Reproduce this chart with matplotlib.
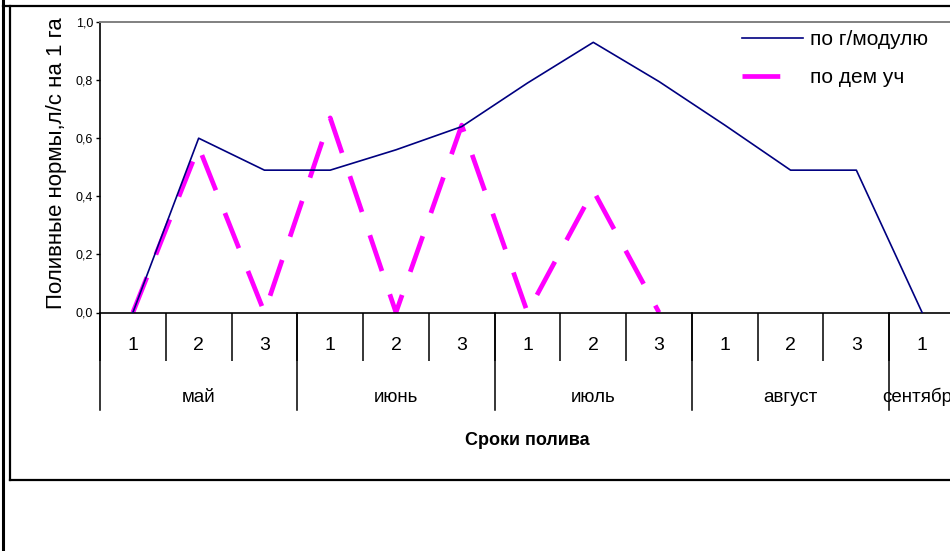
import numpy as np
import matplotlib
matplotlib.use('Agg')
import matplotlib.pyplot as plt
from matplotlib.lines import Line2D
from matplotlib.ticker import FuncFormatter

plt.rcParams['font.family'] = ['Liberation Sans', 'DejaVu Sans']

# decades of each month (1, 2, 3) and month names
decades = ['1', '2', '3', '1', '2', '3', '1', '2', '3', '1', '2', '3', '1']
months = ['май', 'июнь', 'июль', 'август', 'сентябрь']
month_len = [3, 3, 3, 3, 1]

# irrigation rates, l/s per 1 ha
po_modulyu = [0.0, 0.60, 0.49, 0.49, 0.56, 0.64, 0.79, 0.93, 0.795, 0.645, 0.49, 0.49, 0.0]
po_dem_uch = [0.0, 0.57, 0.0, 0.67, 0.0, 0.645, 0.0, 0.42, 0.0,
              np.nan, np.nan, np.nan, np.nan]

W, H = 950, 551
fig = plt.figure(figsize=(W / 100, H / 100), dpi=100)
ax = fig.add_axes([100 / W, (H - 312.5) / H, 855 / W, 290.5 / H])

x = np.arange(len(decades))
ax.plot(x, po_modulyu, color='#000080', lw=1.2, label='по г/модулю', zorder=3)
ax.plot(x, po_dem_uch, color='#FF00FF', lw=3.4, dashes=(8.0, 5.2),
        solid_capstyle='butt', dash_capstyle='butt', label='по дем уч', zorder=2)

ax.set_xlim(-0.5, len(decades) - 0.5)
ax.set_ylim(0, 1.0)
ax.set_yticks(np.arange(0, 1.01, 0.2))
ax.yaxis.set_major_formatter(FuncFormatter(lambda v, p: f'{v:.1f}'.replace('.', ',')))
ax.tick_params(axis='y', length=3, width=1, labelsize=9, pad=2)

# category boundaries as long ticks
ax.set_xticks(np.arange(len(decades) + 1) - 0.5)
ax.set_xticklabels([])
ax.tick_params(axis='x', length=34.5, width=1.1, color='black')

for s in ['left', 'bottom']:
    ax.spines[s].set_color('black')
    ax.spines[s].set_linewidth(1.2)
for s in ['top', 'right']:
    ax.spines[s].set_color('#808080')
    ax.spines[s].set_linewidth(1.4)

tr = ax.get_xaxis_transform()
for i, d in enumerate(decades):
    ax.text(i, -0.115, d, transform=tr, ha='center', va='center', fontsize=14)

edges = np.concatenate([[0], np.cumsum(month_len)]) - 0.5
for e in edges:
    ax.plot([e, e], [0, -0.334], transform=tr, color='black', lw=1.1, clip_on=False)
for m, a, b in zip(months, edges[:-1], edges[1:]):
    ax.text((a + b) / 2, -0.291, m, transform=tr, ha='center', va='center', fontsize=13.5)

ax.text(0.5, -0.439, 'Сроки полива', transform=ax.transAxes, ha='center', va='center',
        fontsize=13, fontweight='bold')
ax.text(-0.0503, 0.515, 'Поливные нормы,л/с на 1 га', transform=ax.transAxes,
        rotation=90, ha='center', va='center', fontsize=16)

leg = ax.legend(loc='upper left', bbox_to_anchor=(736 / W, 1 - 24 / H),
                bbox_transform=fig.transFigure, frameon=True, fancybox=False,
                edgecolor='none', facecolor='white', framealpha=1,
                fontsize=15, handlelength=2.9, handletextpad=0.35,
                labelspacing=0.9, borderpad=0.3, borderaxespad=0)

# chart frame
fig.add_artist(Line2D([3 / W, 3 / W], [0, 1], color='black', lw=2.2))
fig.add_artist(Line2D([3 / W, 1], [1 - 6 / H, 1 - 6 / H], color='black', lw=1.6))
fig.add_artist(Line2D([10 / W, 10 / W], [1 - 6 / H, 1 - 480 / H], color='black', lw=1.6))
fig.add_artist(Line2D([10 / W, 1], [1 - 480 / H, 1 - 480 / H], color='black', lw=1.6))

fig.savefig('out.png', dpi=100)
